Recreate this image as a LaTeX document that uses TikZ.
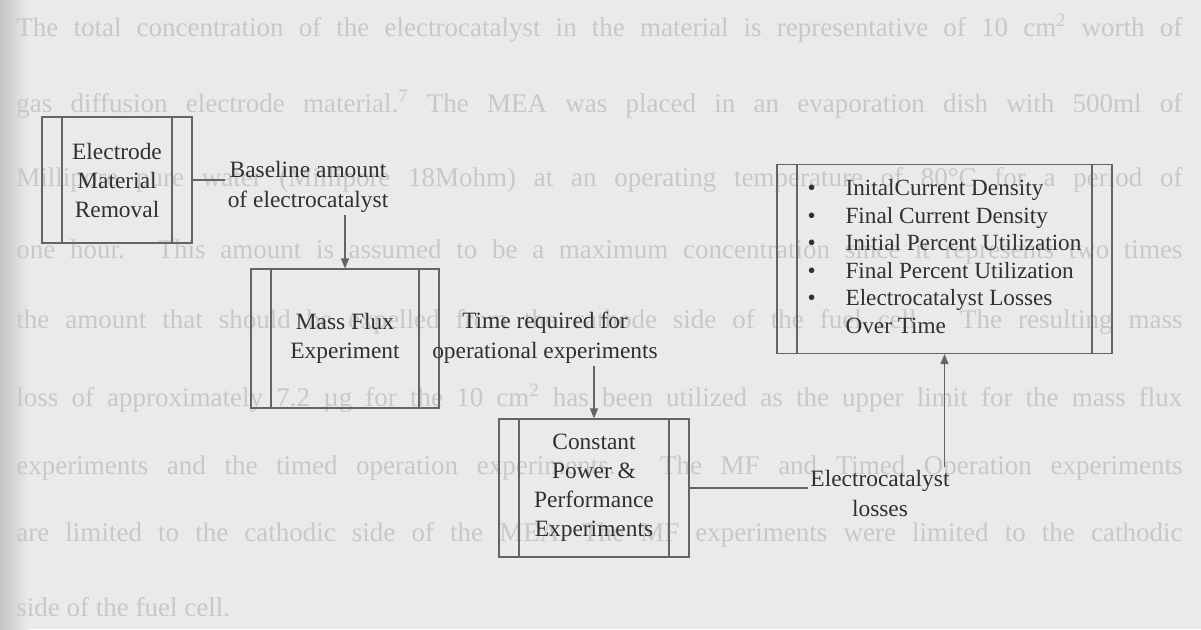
\documentclass[tikz,border=0pt]{standalone}
\usepackage{fontspec}
\setmainfont{Liberation Serif}
\usetikzlibrary{arrows.meta}
\definecolor{pagebg}{RGB}{234,234,234}
\definecolor{pageedge}{RGB}{196,196,196}
\definecolor{pageink}{RGB}{200,200,200}
\definecolor{diagink}{RGB}{48,48,48}
\definecolor{diagline}{RGB}{100,100,100}
\tikzset{
	flowbox/.style={
		draw=diagline,
		line width=0.6pt,
		align=center,
		inner sep=0pt,
		text=diagink,
		font=\fontsize{11.7}{14.5}\selectfont,
		path picture={
			\draw[diagline, line width=0.6pt]
			([xshift=10pt]path picture bounding box.north west) -- ([xshift=10pt]path picture bounding box.south west)
			([xshift=-10pt]path picture bounding box.north east) -- ([xshift=-10pt]path picture bounding box.south east);
		}
	},
	flowNote/.style={
		align=center,
		inner sep=1pt,
		text=diagink,
		font=\fontsize{11.7}{15}\selectfont
	},
	flowList/.style={flowbox, font=\fontsize{11.6}{13.8}\selectfont},
	flowLine/.style={draw=diagline, line width=0.6pt},
	flowArrow/.style={flowLine, -{Triangle[length=5pt,width=4pt]}},
	pageLine/.style={
		anchor=west,
		inner sep=0pt,
		text=pageink,
		font=\fontsize{13.5}{16}\selectfont
	}
}

\begin{document}
\begin{tikzpicture}[x=0.5pt,y=-0.5pt]

	% Scanned page behind the chart
	\fill[pagebg] (0,0) rectangle (1201,629);
	\shade[left color=pageedge, right color=pagebg] (0,0) rectangle (28,629);
	\useasboundingbox (0,0) rectangle (1201,629);

	\node[pageLine] (pl1) at (16,28) {\makebox[583pt][s]{The total concentration of the electrocatalyst in the material is representative of 10 cm\textsuperscript{2} worth of}};
	\node[pageLine] (pl2) at (16,104) {\makebox[583pt][s]{gas diffusion electrode material.\textsuperscript{7} The MEA was placed in an evaporation dish with 500ml of}};
	\node[pageLine] (pl3) at (16,180) {\makebox[583pt][s]{Millipore pure water (Millipore 18Mohm) at an operating temperature of 80°C for a period of}};
	\node[pageLine] (pl4) at (16,252) {\makebox[583pt][s]{one hour. This amount is assumed to be a maximum concentration since it represents two times}};
	\node[pageLine] (pl5) at (16,322) {\makebox[583pt][s]{the amount that should be expelled from the cathode side of the fuel cell. The resulting mass}};
	\node[pageLine] (pl6) at (16,398) {\makebox[583pt][s]{loss of approximately 7.2 µg for the 10 cm\textsuperscript{2} has been utilized as the upper limit for the mass flux}};
	\node[pageLine] (pl7) at (16,468) {\makebox[583pt][s]{experiments and the timed operation experiments. The MF and Timed Operation experiments}};
	\node[pageLine] (pl8) at (16,535) {\makebox[583pt][s]{are limited to the cathodic side of the MEA. The MF experiments were limited to the cathodic}};
	\node[pageLine] (pl9) at (16,607) {side of the fuel cell.};

	% Process boxes
	\node[flowbox, minimum width=75pt, minimum height=63pt] (removal) at (117,180)
	{Electrode\\Material\\Removal};
	\node[flowbox, minimum width=94pt, minimum height=69.5pt] (massflux) at (345,338.5)
	{Mass Flux\\Experiment};
	\node[flowbox, minimum width=95pt, minimum height=69pt] (performance) at (594,488)
	{Constant\\Power \&\\Performance\\Experiments};
	\node[flowList, minimum width=167.5pt, minimum height=94.5pt] (results) at (944.5,259)
	{\begin{tabular}{@{}p{19pt}@{}l@{}}
			\textbullet & InitalCurrent Density\\
			\textbullet & Final Current Density\\
			\textbullet & Initial Percent Utilization\\
			\textbullet & Final Percent Utilization\\
			\textbullet & Electrocatalyst Losses\\
			& Over Time
	\end{tabular}};

	% Labels
	\node[flowNote] (baseline) at (308,187) {Baseline amount\\of electrocatalyst};
	\node[flowNote] (timereq) at (545,338) {Time required for\\operational experiments};
	\node[flowNote] (losses) at (880,493) {Electrocatalyst\\losses};

	% Flows
	\draw[flowLine] (removal.east) -- (removal.east -| baseline.west);
	\draw[flowArrow] (baseline.south -| massflux.north) -- (massflux.north);
	\draw[flowArrow] (timereq.south -| performance.north) -- (performance.north);
	\draw[flowLine] (performance.east) -- (performance.east -| losses.west);
	\draw[flowArrow] (losses.north -| results.south) -- (results.south);

\end{tikzpicture}
\end{document}
